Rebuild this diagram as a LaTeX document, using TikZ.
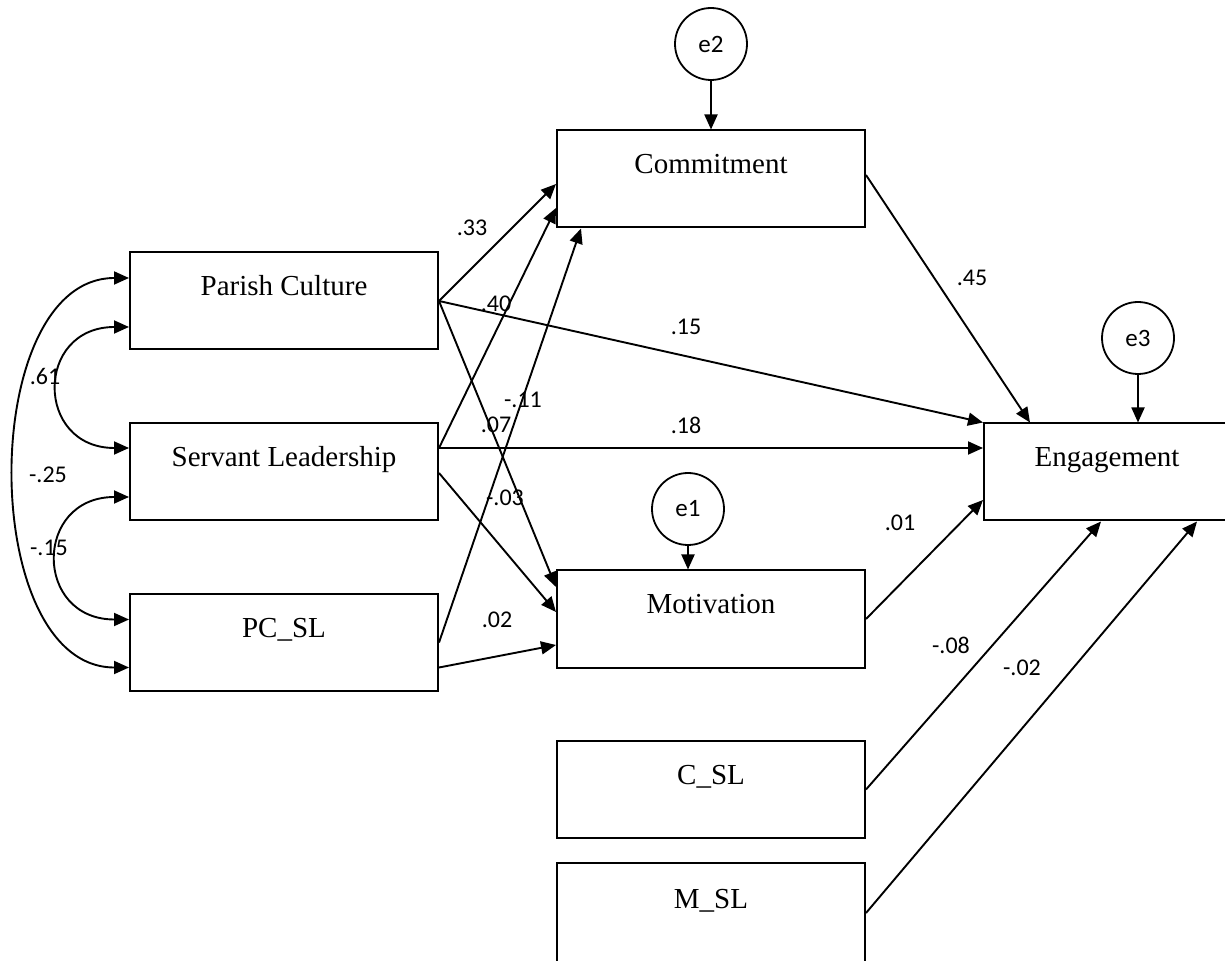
\documentclass[tikz,border=0pt]{standalone}
\usepackage{fontspec}
\setmainfont{Liberation Serif}
\newfontfamily\labfont{Carlito}
\usetikzlibrary{arrows.meta}
\begin{document}
\begin{tikzpicture}[x=0.5pt,y=-0.5pt,
  >={Triangle[length=7.5pt,width=6.5pt]},
  box/.style={draw,line width=1pt,minimum width=154pt,minimum height=48.5pt,inner sep=0pt,
    font=\fontsize{14.5}{17}\selectfont,text height=10pt,text depth=15pt},
  err/.style={draw,circle,line width=0.9pt,minimum size=36pt,inner sep=0pt,
    font=\labfont\fontsize{12.5}{14}\selectfont},
  path/.style={->,line width=0.95pt},
  cov/.style={<->,line width=0.95pt},
  lab/.style={font=\labfont\fontsize{12}{14}\selectfont,inner sep=0pt}]
\useasboundingbox (0,0) rectangle (1225,961);
\clip (0,0) rectangle (1225,961);
% boxes
\node[box] (pc) at (284,301) {Parish Culture};
\node[box] (sl) at (284,472) {Servant Leadership};
\node[box] (pcsl) at (284,642.5) {PC\_SL};
\node[box] (com) at (711,179) {Commitment};
\node[box] (mot) at (711,619) {Motivation};
\node[box,minimum width=123pt] (eng) at (1107,472) {Engagement};
\node[box] (csl) at (711,789.5) {C\_SL};
\node[box,minimum height=50pt] (msl) at (711,913) {M\_SL};
% error terms
\node[err] (e2) at (711,44) {e2};
\node[err] (e1) at (688,509) {e1};
\node[err] (e3) at (1138,338) {e3};
\draw[path] (e2.south) -- (e2.south |- com.north);
\draw[path] (e1.south) -- (e1.south |- mot.north);
\draw[path] (e3.south) -- (e3.south |- eng.north);
% paths
\draw[path] (pc.east) -- ([yshift=-2.5pt]com.west);
\draw[path] (pc.east) -- (eng.north west);
\draw[path] (pc.east) -- ([yshift=16pt]mot.west);
\draw[path] ([yshift=12pt]sl.east) -- ([yshift=-14.5pt]com.west);
\draw[path] ([yshift=12pt]sl.east) -- ([yshift=12pt]eng.west);
\draw[path] ([yshift=-0.5pt]sl.east) -- ([yshift=3.5pt]mot.west);
\draw[path] (pcsl.east) -- ([xshift=-65pt]com.south);
\draw[path] ([yshift=-12.5pt]pcsl.east) -- ([yshift=-13pt]mot.west);
\draw[path] ([yshift=2pt]com.east) -- ([xshift=-38.5pt]eng.north);
\draw[path] (mot.east) -- ([yshift=-14pt]eng.west);
\draw[path] (csl.east) -- ([xshift=-3pt]eng.south);
\draw[path] (msl.east) -- ([xshift=45pt]eng.south);
% covariances
\draw[cov] ([yshift=-13pt]pc.west) to[out=180,in=180,looseness=2] ([yshift=12pt]sl.west);
\draw[cov] ([yshift=-12.5pt]sl.west) to[out=180,in=180,looseness=2] ([yshift=11.5pt]pcsl.west);
\draw[cov] ([yshift=11.5pt]pc.west) to[out=180,in=180,looseness=1.0] ([yshift=-12.5pt]pcsl.west);
% labels
\node[lab] (l1) at (472,228) {.33};
\node[lab] (l2) at (496,304) {.40};
\node[lab] (l3) at (686,327) {.15};
\node[lab] (l4) at (686,425) {.18};
\node[lab] (l5) at (523,400) {-.11};
\node[lab] (l6) at (496,425) {.07};
\node[lab] (l7) at (505,498) {-.03};
\node[lab] (l8) at (497,620) {.02};
\node[lab] (l9) at (972,278) {.45};
\node[lab] (l10) at (900,523) {.01};
\node[lab] (l11) at (951,645) {-.08};
\node[lab] (l12) at (1022,668) {-.02};
\node[lab] (l13) at (45,376) {.61};
\node[lab] (l14) at (48,475) {-.25};
\node[lab] (l15) at (49,548) {-.15};
\end{tikzpicture}
\end{document}
